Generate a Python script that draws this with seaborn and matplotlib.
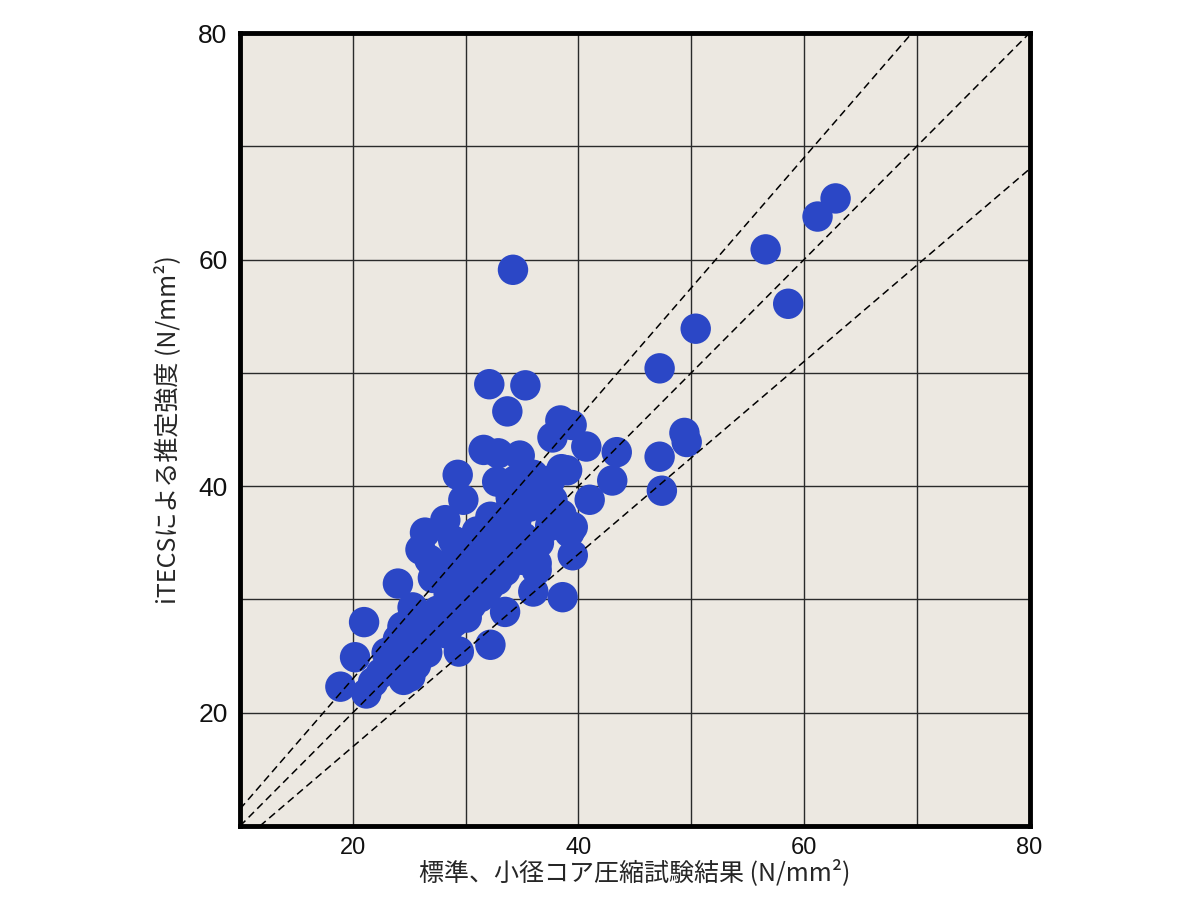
import matplotlib
matplotlib.use("Agg")
import matplotlib.pyplot as plt
import pandas as pd
import seaborn as sns
from matplotlib.ticker import MultipleLocator

# Valeurs (N/mm2)
core_strength = [
    34.2, 32.1, 35.3, 33.7, 38.4, 39.4, 37.7, 40.7, 43.4, 34.8,
    31.6, 32.9, 29.3, 32.8, 39.0, 43.0, 29.8, 41.0, 37.7, 35.7,
    32.2, 33.9, 26.4, 39.2, 35.1, 28.9, 34.5, 26.0, 39.5, 33.0,
    36.3, 33.0, 31.5, 36.3, 27.1, 24.0, 31.9, 36.0, 32.8, 30.1,
    38.6, 28.6, 31.3, 25.3, 33.5, 30.1, 21.0, 24.4, 28.3, 26.0,
    32.2, 29.4, 23.0, 26.6, 20.2, 25.6, 25.1, 21.8, 18.9, 21.2,
    24.5, 26.8, 28.2, 36.6, 34.4, 29.1, 38.0, 39.5,
    27.5, 28.5, 29.5, 30.5, 31.5, 32.5, 33.5, 34.5, 35.5, 36.5,
    37.5, 38.5, 29.0, 30.5, 32.0, 33.5, 35.0, 36.5, 37.5, 38.5,
    26.0, 25.0, 23.5, 22.5, 24.0, 27.0, 28.0, 30.0, 31.0, 34.0,
    36.0,
    47.2, 47.2, 47.4, 49.4, 49.6, 50.4, 56.6, 58.6, 61.2, 62.8,
]
itecs_strength = [
    59.1, 49.0, 48.9, 46.6, 45.8, 45.4, 44.3, 43.5, 43.0, 42.7,
    43.2, 42.9, 41.0, 40.4, 41.4, 40.5, 38.8, 38.8, 38.8, 38.2,
    37.3, 37.9, 35.9, 35.9, 35.5, 35.2, 34.6, 34.4, 33.9, 34.1,
    33.2, 33.2, 32.3, 32.6, 31.9, 31.4, 31.4, 30.7, 31.7, 30.6,
    30.2, 29.7, 30.2, 29.3, 28.9, 28.4, 28.0, 27.6, 27.0, 26.7,
    26.0, 25.4, 25.3, 25.3, 24.9, 24.2, 23.2, 22.7, 22.3, 21.7,
    22.9, 33.5, 37.0, 40.5, 40.5, 33.0, 37.0, 36.4,
    29.0, 30.5, 31.5, 32.5, 34.0, 35.0, 36.0, 37.0, 38.5, 39.5,
    40.5, 41.5, 28.0, 29.5, 31.0, 32.5, 33.5, 35.0, 36.5, 37.5,
    28.5, 26.0, 24.5, 23.5, 26.5, 27.0, 33.0, 35.0, 36.0, 39.0,
    41.0,
    50.4, 42.6, 39.6, 44.7, 43.9, 53.9, 60.9, 56.1, 63.8, 65.4,
]
ratio_lines = [0.85, 1.0, 1.15]  # droites y = r * x
tick_labels = [20, 40, 60, 80]

df = pd.DataFrame({"core": core_strength, "itecs": itecs_strength})

sns.set_style("white")
plt.rcParams["font.family"] = ["Noto Sans CJK JP", "DejaVu Sans"]

fig = plt.figure(figsize=(12, 9), dpi=100)
ax = fig.add_axes([0.2, 0.0822, 0.658, 0.8811])
ax.set_facecolor("#ece8e1")

ax.set_xlim(10, 80)
ax.set_ylim(10, 80)
ax.xaxis.set_minor_locator(MultipleLocator(10))
ax.yaxis.set_minor_locator(MultipleLocator(10))
ax.set_xticks(tick_labels)
ax.set_yticks(tick_labels)
ax.grid(which="both", color="#2a2a2a", linewidth=1.0)
ax.set_axisbelow(True)

for r in ratio_lines:
    ax.axline((0, 0), slope=r, color="black", linestyle=(0, (5, 3)),
              linewidth=1.1, zorder=3)

sns.scatterplot(data=df, x="core", y="itecs", s=480, color="#2b47c6",
                edgecolor="none", linewidth=0, ax=ax, zorder=2)

for side in ax.spines.values():
    side.set_linewidth(3.5)
    side.set_color("black")

ax.tick_params(axis="x", which="both", length=0, pad=8, labelsize=17,
               labelfontfamily="Liberation Sans", labelcolor="#111111")
ax.tick_params(axis="y", which="major", length=6, width=1, pad=3,
               labelsize=19, labelfontfamily="Liberation Sans",
               labelcolor="#111111")
ax.tick_params(axis="y", which="minor", length=6, width=1)

ax.set_xlabel("標準、小径コア圧縮試験結果 (N/mm²)", fontsize=18, labelpad=0)
ax.set_ylabel("iTECSによる推定強度 (N/mm²)", fontsize=18, labelpad=12)

fig.savefig("out.png", dpi=100, facecolor="white")
